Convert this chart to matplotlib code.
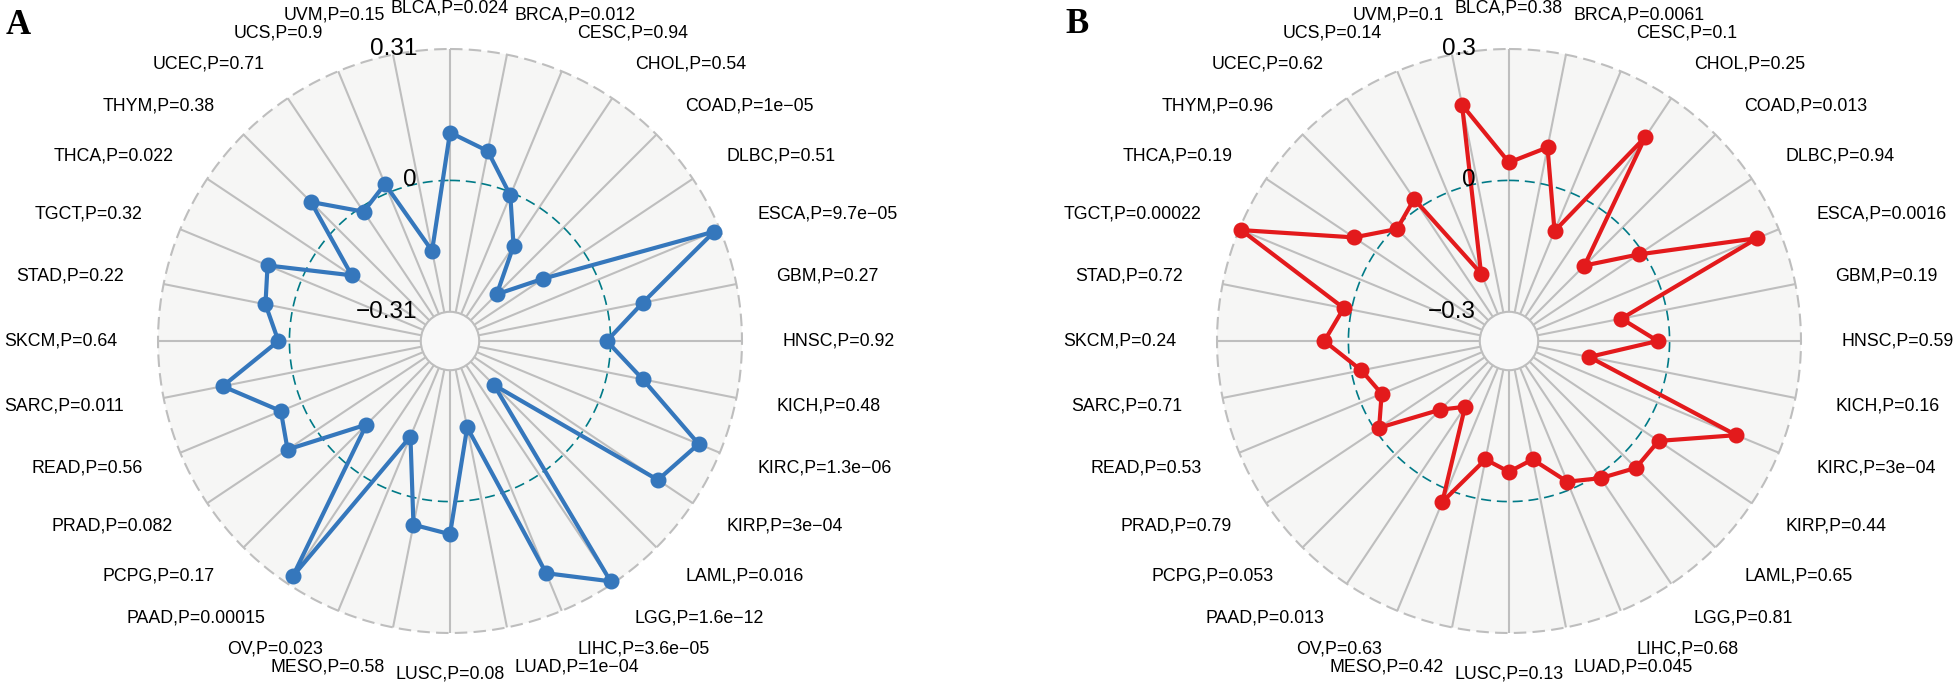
import numpy as np
import matplotlib.pyplot as plt
from matplotlib.patches import Circle

plt.rcParams['font.family'] = ['Liberation Sans', 'DejaVu Sans']

cancers = ['BLCA', 'BRCA', 'CESC', 'CHOL', 'COAD', 'DLBC', 'ESCA', 'GBM',
           'HNSC', 'KICH', 'KIRC', 'KIRP', 'LAML', 'LGG', 'LIHC', 'LUAD',
           'LUSC', 'MESO', 'OV', 'PAAD', 'PCPG', 'PRAD', 'READ', 'SARC',
           'SKCM', 'STAD', 'TGCT', 'THCA', 'THYM', 'UCEC', 'UCS', 'UVM']

# panel A
p_a = ['0.024', '0.012', '0.94', '0.54', '1e-05', '0.51', '9.7e-05', '0.27',
       '0.92', '0.48', '1.3e-06', '3e-04', '0.016', '1.6e-12', '3.6e-05', '1e-04',
       '0.08', '0.58', '0.023', '0.00015', '0.17', '0.082', '0.56', '0.011',
       '0.64', '0.22', '0.32', '0.022', '0.38', '0.71', '0.9', '0.15']
cor_a = [0.113, 0.078, -0.007, -0.109, -0.223, -0.114, 0.296, 0.085,
         -0.009, 0.085, 0.256, 0.211, -0.232, 0.303, 0.214, -0.171,
         0.077, 0.063, -0.135, 0.289, -0.100, 0.082, 0.053, 0.168,
         0.026, 0.065, 0.087, -0.100, 0.085, -0.012, 0.022, -0.162]
grid_a = [-0.31, 0, 0.31]
grid_labels_a = ['\u22120.31', '0', '0.31']

# panel B
p_b = ['0.38', '0.0061', '0.1', '0.25', '0.013', '0.94', '0.0016', '0.19',
       '0.59', '0.16', '3e-04', '0.44', '0.65', '0.81', '0.68', '0.045',
       '0.13', '0.42', '0.63', '0.013', '0.053', '0.79', '0.53', '0.71',
       '0.24', '0.72', '0.00022', '0.19', '0.96', '0.62', '0.14', '0.1']
cor_b = [0.041, 0.084, -0.095, 0.193, -0.123, -0.011, 0.247, -0.105,
         -0.027, -0.180, 0.195, 0.044, 0.043, 0.010, -0.019, -0.091,
         -0.068, -0.091, 0.031, -0.186, -0.145, -0.010, -0.052, -0.023,
         0.055, 0.018, 0.295, 0.059, -0.005, 0.023, -0.200, 0.183]
grid_b = [-0.3, 0, 0.3]
grid_labels_b = ['\u22120.3', '0', '0.3']

CENTRE = 0.1      # radius of the inner hole (fraction of outer circle)
LABEL_R = 1.14
PX = 292.0        # pixels per unit radius


def to_r(v, grid):
    gmin, gmax = grid[0], grid[-1]
    return CENTRE + (1 - CENTRE) * (np.asarray(v) - gmin) / (gmax - gmin)


def circle_xy(r, n=400):
    t = np.linspace(0, 2 * np.pi, n)
    return r * np.sin(t), r * np.cos(t)


def radar(ax, values, pvals, grid, grid_labels, colour):
    n = len(cancers)
    theta = 2 * np.pi * np.arange(n) / n
    ax.add_patch(Circle((0, 0), 1.0, facecolor='#F6F6F5', edgecolor='none', zorder=0))

    # spokes
    for t in theta:
        ax.plot([CENTRE * np.sin(t), np.sin(t)], [CENTRE * np.cos(t), np.cos(t)],
                color='#BEBEBE', lw=1.5, zorder=1, solid_capstyle='butt')
    ax.add_patch(Circle((0, 0), CENTRE, facecolor='#F8F8F8', edgecolor='#BEBEBE',
                        lw=1.5, zorder=1.5))

    # outer and mid circles
    x, y = circle_xy(1.0)
    ax.plot(x, y, color='#BEBEBE', lw=1.5, ls=(0, (6, 3)), zorder=2)
    x, y = circle_xy(to_r(0, grid))
    ax.plot(x, y, color='#007A87', lw=1.2, ls=(0, (6, 3.5)), zorder=2)

    # data
    r = to_r(values, grid)
    xs = np.append(r * np.sin(theta), r[0] * np.sin(theta[0]))
    ys = np.append(r * np.cos(theta), r[0] * np.cos(theta[0]))
    ax.plot(xs, ys, color=colour, lw=3.0, zorder=3, solid_joinstyle='round')
    ax.plot(xs[:-1], ys[:-1], 'o', color=colour, ms=10.5, zorder=4)

    # category labels
    for t, name, p in zip(theta, cancers, pvals):
        s = np.sin(t)
        ha = 'center' if abs(s) < 1e-6 else ('left' if s > 0 else 'right')
        ax.text(LABEL_R * s, LABEL_R * np.cos(t), f'{name},P={p.replace("-", chr(0x2212))}',
                ha=ha, va='center', fontsize=12.8, color='black')

    # grid value labels
    for g, lab in zip(grid, grid_labels):
        ax.text(-33 / PX, to_r(g, grid), lab, ha='right', va='center',
                fontsize=17.5, color='black', zorder=5)
    ax.axis('off')


fig = plt.figure(figsize=(19.54, 6.86), dpi=100)
W, H = 1954.0, 686.0
cy = 341.0

ax_a = fig.add_axes([0, 0, 977 / W, 1])
cx = 450.0
ax_a.set_xlim(-cx / PX, (977 - cx) / PX)
ax_a.set_ylim(-(H - cy) / PX, cy / PX)
radar(ax_a, cor_a, p_a, grid_a, grid_labels_a, '#3577BC')

ax_b = fig.add_axes([977 / W, 0, 977 / W, 1])
cx = 1509.0 - 977
ax_b.set_xlim(-cx / PX, (977 - cx) / PX)
ax_b.set_ylim(-(H - cy) / PX, cy / PX)
radar(ax_b, cor_b, p_b, grid_b, grid_labels_b, '#E31A1C')

fig.text(6 / W, 1 - 34 / H, 'A', family='Liberation Serif', weight='bold',
         fontsize=25, va='baseline', ha='left')
fig.text(1065 / W, 1 - 33 / H, 'B', family='Liberation Serif', weight='bold',
         fontsize=25, va='baseline', ha='left')

fig.savefig('out.png', dpi=100)
